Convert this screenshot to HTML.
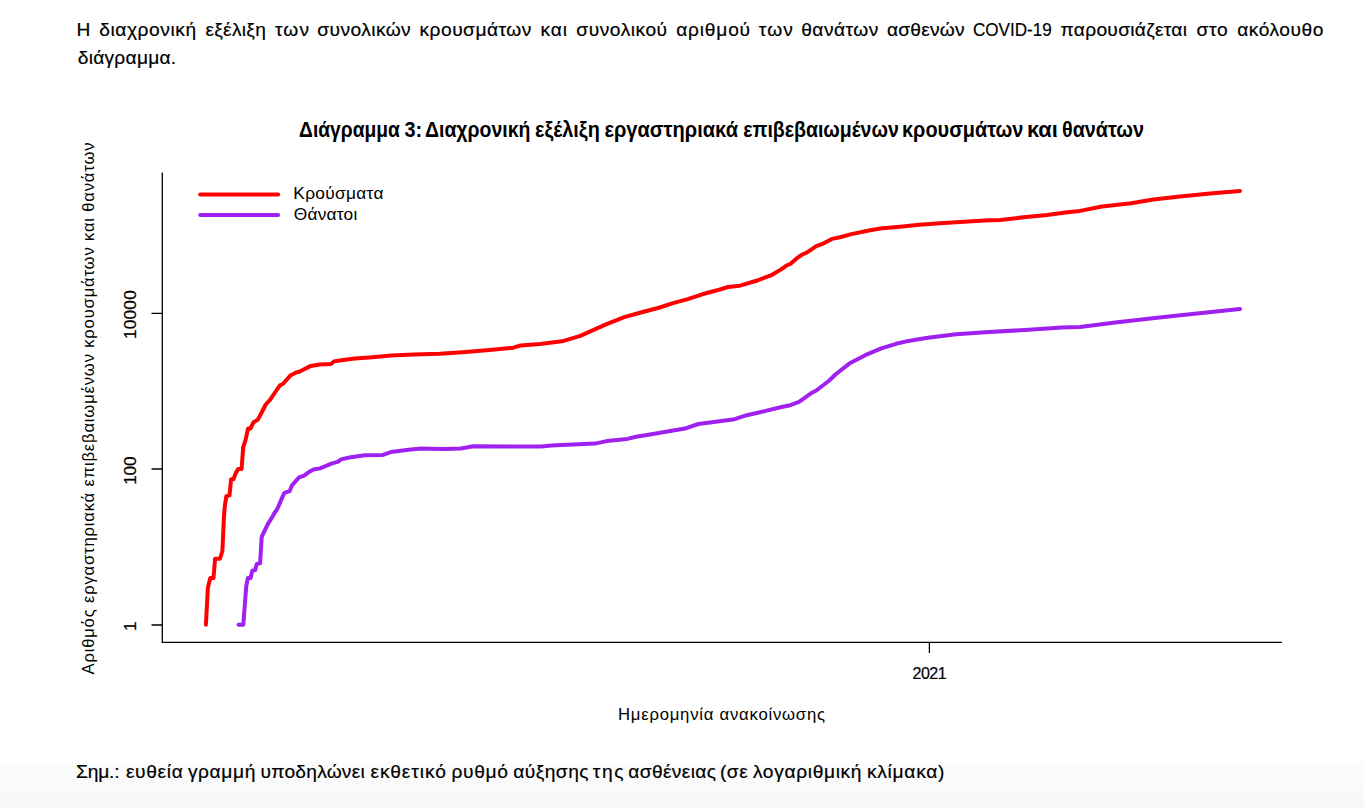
<!DOCTYPE html>
<html><head><meta charset="utf-8">
<style>
html,body{margin:0;padding:0;background:#fff;}
body{width:1364px;height:808px;overflow:hidden;position:relative;}
svg{position:absolute;left:0;top:0;display:block;}
text{font-family:"Liberation Sans",sans-serif;fill:#000;}
.b{stroke:#000;stroke-width:0.2px;}
</style></head>
<body>
<svg width="1364" height="808" viewBox="0 0 1364 808">
<defs>
<linearGradient id="bg" x1="0" y1="0" x2="0" y2="1">
<stop offset="0" stop-color="#fcfcfc"/>
<stop offset="1" stop-color="#f7f7f7"/>
</linearGradient>
</defs>
<rect x="0" y="762" width="1364" height="46" fill="url(#bg)"/>

<!-- paragraph -->
<text class="b" x="76.6" y="36.1" font-size="19.2" textLength="13.8" lengthAdjust="spacing">Η</text>
<text class="b" x="99.2" y="36.1" font-size="19.2" textLength="96.9" lengthAdjust="spacing">διαχρονική</text>
<text class="b" x="205.4" y="36.1" font-size="19.2" textLength="60.5" lengthAdjust="spacing">εξέλιξη</text>
<text class="b" x="274.9" y="36.1" font-size="19.2" textLength="34.2" lengthAdjust="spacing">των</text>
<text class="b" x="317.3" y="36.1" font-size="19.2" textLength="93.4" lengthAdjust="spacing">συνολικών</text>
<text class="b" x="419.5" y="36.1" font-size="19.2" textLength="111.9" lengthAdjust="spacing">κρουσμάτων</text>
<text class="b" x="540.4" y="36.1" font-size="19.2" textLength="26.7" lengthAdjust="spacing">και</text>
<text class="b" x="576.3" y="36.1" font-size="19.2" textLength="90.8" lengthAdjust="spacing">συνολικού</text>
<text class="b" x="676.2" y="36.1" font-size="19.2" textLength="73.9" lengthAdjust="spacing">αριθμού</text>
<text class="b" x="758.8" y="36.1" font-size="19.2" textLength="34.0" lengthAdjust="spacing">των</text>
<text class="b" x="801.2" y="36.1" font-size="19.2" textLength="77.1" lengthAdjust="spacing">θανάτων</text>
<text class="b" x="886.9" y="36.1" font-size="19.2" textLength="77.6" lengthAdjust="spacing">ασθενών</text>
<text class="b" x="972.9" y="36.1" font-size="19.2" textLength="78.8" lengthAdjust="spacingAndGlyphs">COVID-19</text>
<text class="b" x="1060.6" y="36.1" font-size="19.2" textLength="126.4" lengthAdjust="spacing">παρουσιάζεται</text>
<text class="b" x="1196.6" y="36.1" font-size="19.2" textLength="31.1" lengthAdjust="spacing">στο</text>
<text class="b" x="1237.2" y="36.1" font-size="19.2" textLength="86.2" lengthAdjust="spacing">ακόλουθο</text>
<text class="b" x="77.7" y="64.3" font-size="19.2" textLength="98.5" lengthAdjust="spacing">διάγραμμα.</text>

<!-- title -->
<text x="299.1" y="137" font-size="21.6" font-weight="bold" textLength="100.8" lengthAdjust="spacingAndGlyphs">Διάγραμμα</text>
<text x="404.5" y="137" font-size="21.6" font-weight="bold" textLength="17.7" lengthAdjust="spacingAndGlyphs">3:</text>
<text x="425.0" y="137" font-size="21.6" font-weight="bold" textLength="105.5" lengthAdjust="spacingAndGlyphs">Διαχρονική</text>
<text x="535.0" y="137" font-size="21.6" font-weight="bold" textLength="64.8" lengthAdjust="spacingAndGlyphs">εξέλιξη</text>
<text x="604.4" y="137" font-size="21.6" font-weight="bold" textLength="133.6" lengthAdjust="spacingAndGlyphs">εργαστηριακά</text>
<text x="743.2" y="137" font-size="21.6" font-weight="bold" textLength="155.6" lengthAdjust="spacingAndGlyphs">επιβεβαιωμένων</text>
<text x="902.0" y="137" font-size="21.6" font-weight="bold" textLength="121.4" lengthAdjust="spacingAndGlyphs">κρουσμάτων</text>
<text x="1026.9" y="137" font-size="21.6" font-weight="bold" textLength="31.0" lengthAdjust="spacingAndGlyphs">και</text>
<text x="1062.0" y="137" font-size="21.6" font-weight="bold" textLength="82.0" lengthAdjust="spacingAndGlyphs">θανάτων</text>

<!-- axes -->
<g stroke="#000" stroke-width="1.3" fill="none" stroke-linecap="butt">
<path d="M162.3 172.5 V642.3 H1282"/>
<path d="M151.5 625 H162.3 M151.5 469 H162.3 M151.5 313.3 H162.3"/>
<path d="M929.4 642.3 V653"/>
</g>

<!-- y tick labels (rotated) -->
<text class="b" transform="translate(136.3,626.3) rotate(-90)" font-size="17.2" text-anchor="middle">1</text>
<text class="b" transform="translate(136.3,470.6) rotate(-90)" font-size="17.2" text-anchor="middle" textLength="28.5" lengthAdjust="spacing">100</text>
<text class="b" transform="translate(136.3,314.6) rotate(-90)" font-size="17.2" text-anchor="middle" textLength="48.6" lengthAdjust="spacing">10000</text>

<!-- y axis label -->
<text transform="translate(94,674.5) rotate(-90)" font-size="16.6" textLength="532" lengthAdjust="spacing">Αριθμός εργαστηριακά επιβεβαιωμένων κρουσμάτων και θανάτων</text>

<!-- x tick label -->
<text class="b" x="929.6" y="679" font-size="16" text-anchor="middle" textLength="34.1" lengthAdjust="spacing">2021</text>
<!-- x axis label -->
<text x="618" y="720" font-size="16.7" textLength="207" lengthAdjust="spacing">Ημερομηνία ανακοίνωσης</text>

<!-- legend -->
<g stroke-width="4" stroke-linecap="round" fill="none">
<path d="M200.2 194.4 H278.1" stroke="#ff0000"/>
<path d="M200.2 215 H278.1" stroke="#a020f0"/>
</g>
<text x="293.3" y="199" font-size="17.3" textLength="90.2" lengthAdjust="spacing">Κρούσματα</text>
<text x="293.8" y="219.7" font-size="17.3" textLength="63.5" lengthAdjust="spacing">Θάνατοι</text>

<!-- curves -->
<g stroke-width="4" stroke-linecap="round" stroke-linejoin="round" fill="none">
<polyline stroke="#ff0000" points="205.9,624.7 207.9,587.7 210.3,578 213.5,578 215.1,558.7 220,558.7 222.4,550.7 224,516 224.8,506.4 226.3,496.2 229.5,495.4 231.1,479.3 233.5,479.3 235.9,472.9 238.3,468.9 241.6,468.9 243.2,447.1 245.6,439.9 248,428.6 250.4,428.6 253.6,422.2 257.7,419.8 261.7,412.5 265.7,404.5 270,399.9 275,392.5 279.9,385.3 282.9,384 290.3,375.6 295.7,372.7 299.7,371.5 310.8,365.9 319.5,364.6 331.3,363.9 334,361.4 341.3,360.2 354.7,358.5 369.3,357.4 391.3,355.5 413.3,354.4 440,353.8 465.7,352.1 495,349.6 513.3,347.7 520.6,345.5 540,343.9 562,341.3 580.3,335.8 598.7,327.7 606,324.4 624.3,317.1 640,312.7 659.8,307.5 673,303.1 687.7,299.1 702.3,294.3 717,290.3 728,287 740,285.7 757.3,280.5 772.1,274.8 780.7,269.6 786.8,265.3 790.3,264 797.2,257.9 802.4,254.5 806.7,252.7 816.3,246.2 823.2,243.6 831.9,238.9 840,237.2 851.4,234.1 870,230.2 882.3,228.2 900,226.7 919.3,224.7 940,223.2 984.4,220.6 1000,219.9 1023.5,217.3 1046.9,215 1067.4,212.3 1080,210.9 1102,206.5 1131.3,203.2 1153.3,199.5 1180,196.4 1210,193.6 1240,190.9"/>
<polyline stroke="#a020f0" points="238.5,624.7 243.3,624.7 246.2,586.8 247.8,578 250.6,578 252.3,570.7 255.1,570.1 256.8,564 260.1,563.4 261.7,536.9 267.8,524.1 272.3,516.9 274.5,513 277.3,509 284,493.4 285.7,492.3 289.6,491.2 291.8,485.6 299.1,477.3 304.1,475.6 308.5,472.3 313.5,469.5 320,468.4 332.1,463.4 337.7,461.8 341,459.4 350.6,457.3 365.2,455.3 382.9,454.9 391,452.1 408.7,449.7 420.8,448.5 430,448.8 444.5,449 460.6,448.5 473.5,446.3 512,446.6 541.3,446.5 551.5,445.4 594.9,443.6 606.7,441.1 627.2,438.9 636,436.7 650,434.5 686.3,428.2 698.4,424 734.7,419.2 746.8,415.2 760,412.2 781.7,407 790.3,405.2 799,401.8 812,392.7 816.3,390.5 829.3,380.5 835.4,374.5 849.3,363.6 860,358 865.2,355.2 881.3,348.3 896.1,343.8 908.5,340.9 920,339.1 929.8,337.5 956.2,334.2 989.2,331.9 1028.8,329.8 1061.8,327.6 1080,326.9 1117.4,322.3 1154.8,317.9 1192.2,313.9 1240,309"/>
</g>

<!-- footer -->
<text class="b" x="76.1" y="777.7" font-size="19.2" textLength="43.5" lengthAdjust="spacing">Σημ.:</text>
<text class="b" x="125.9" y="777.7" font-size="19.2" textLength="56.9" lengthAdjust="spacing">ευθεία</text>
<text class="b" x="187.9" y="777.7" font-size="19.2" textLength="67.4" lengthAdjust="spacing">γραμμή</text>
<text class="b" x="260.6" y="777.7" font-size="19.2" textLength="104.1" lengthAdjust="spacing">υποδηλώνει</text>
<text class="b" x="370.4" y="777.7" font-size="19.2" textLength="75.6" lengthAdjust="spacing">εκθετικό</text>
<text class="b" x="451.5" y="777.7" font-size="19.2" textLength="56.5" lengthAdjust="spacing">ρυθμό</text>
<text class="b" x="513.2" y="777.7" font-size="19.2" textLength="75.3" lengthAdjust="spacing">αύξησης</text>
<text class="b" x="592.7" y="777.7" font-size="19.2" textLength="30.8" lengthAdjust="spacing">της</text>
<text class="b" x="628.3" y="777.7" font-size="19.2" textLength="87.7" lengthAdjust="spacing">ασθένειας</text>
<text class="b" x="719.9" y="777.7" font-size="19.2" textLength="27.8" lengthAdjust="spacing">(σε</text>
<text class="b" x="752.9" y="777.7" font-size="19.2" textLength="108.6" lengthAdjust="spacing">λογαριθμική</text>
<text class="b" x="866.9" y="777.7" font-size="19.2" textLength="77.6" lengthAdjust="spacing">κλίμακα)</text>
</svg>
</body></html>
